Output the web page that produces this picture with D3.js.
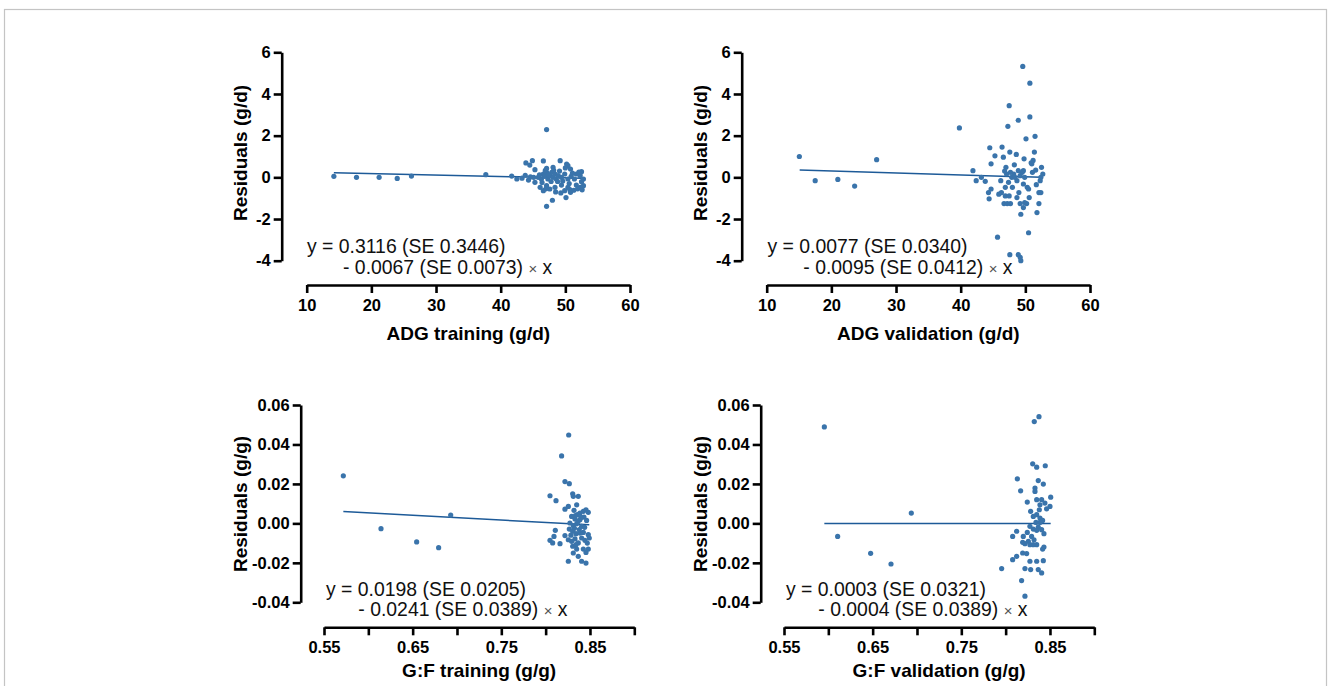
<!DOCTYPE html>
<html>
<head>
<meta charset="utf-8">
<script src="https://cdn.jsdelivr.net/npm/d3@7/dist/d3.min.js"></script>
<style>
  html, body { margin: 0; padding: 0; background: #fff; }
  svg { display: block; }
  text { font-family: Arial, "Liberation Sans", sans-serif; }
</style>
</head>
<body>
<svg id="chart" width="1328" height="686"></svg>
<script>
// Residual points [observed value, residual] for each model
const adgTrainPoints = [
  [14.2,0.05],[17.7,0.0],[21.2,0.0],[24.0,-0.05],[26.2,0.06],[37.7,0.13],[41.7,0.06],
  [47.1,2.29],[47.1,-1.39],[48.0,-1.1],[50.1,-0.97],
  [43.9,0.69],[44.9,0.80],[44.5,0.59],[46.6,0.79],[49.2,0.80],[45.3,0.37],[47.1,0.43],[48.1,0.48],
  [50.2,0.64],[50.4,0.56],[50.8,0.40],[52.5,0.27],[52.3,0.08],[42.5,-0.08],[43.3,-0.04],[43.8,0.1],
  [44.3,-0.13],[45.1,0.0],[45.3,-0.24],[45.8,0.0],[46.3,-0.08],[46.6,0.16],[46.8,0.05],[47.1,0.24],
  [47.3,-0.08],[47.6,0.08],[47.9,0.24],[48.1,0.0],[48.4,0.16],[48.6,-0.08],[48.9,0.08],[49.4,0.0],
  [49.9,0.16],[50.4,-0.08],[50.9,0.05],[51.4,-0.08],[51.7,0.16],[46.1,-0.48],[46.6,-0.64],[47.1,-0.4],
  [47.6,-0.56],[48.4,-0.48],[49.4,-0.37],[49.9,-0.64],[50.4,-0.48],[50.7,-0.59],[51.7,-0.37],[52.3,-0.48],
  [52.8,-0.4],[52.5,-0.21],[52.8,-0.08],[46.9,0.33],[47.4,0.12],[48.2,0.33],[48.8,-0.2],[49.1,0.3],
  [49.6,-0.18],[50.0,0.45],[51.1,0.2],[51.9,-0.55],[52.6,-0.6],[47.8,-0.2],[46.4,-0.25],[49.3,-0.75],
  [50.6,-0.3],[51.3,-0.62],[52.1,0.25],[44.6,0.02],[46.0,0.12],[47.0,-0.55],[48.5,-0.7],[50.8,-0.72]
];
const adgValidPoints = [
  [15.05,1.0],[17.5,-0.16],[21.0,-0.10],[23.6,-0.42],[27.0,0.85],[39.8,2.37],[41.9,0.32],[42.4,-0.16],
  [43.2,0.0],[43.8,-0.19],[44.5,1.42],[44.7,0.65],[45.3,1.03],[44.3,-0.73],[44.4,-1.03],[44.7,-0.56],
  [45.7,-2.87],[46.4,1.45],[46.6,0.97],[46.2,-0.16],[46.3,-0.73],[46.9,-0.89],[46.7,-1.26],[47.2,-1.26],
  [47.1,0.16],[47.0,0.48],[47.3,2.45],[47.5,3.44],[47.6,1.21],[47.9,0.0],[48.0,-0.48],[48.2,0.16],
  [48.6,1.10],[48.7,-0.16],[48.9,2.74],[49.0,-0.73],[49.2,-1.26],[49.3,-1.77],[49.6,5.32],[49.7,0.32],
  [49.8,0.89],[49.9,0.0],[50.1,1.85],[50.2,-1.26],[50.3,-0.48],[50.5,-2.66],[50.7,2.90],[50.7,4.52],
  [51.0,0.65],[51.1,0.24],[51.2,0.81],[51.4,1.21],[51.5,1.97],[51.7,-0.35],[51.8,-1.69],[52.1,-1.26],
  [52.1,-0.73],[52.4,-0.73],[52.5,0.48],[52.7,0.16],[52.4,0.0],[52.3,-0.16],[47.6,-3.71],[48.9,-3.71],
  [49.3,-4.0],[49.2,-3.84],[46.9,-0.48],[47.4,-0.24],[47.7,0.24],[48.4,0.0],[49.2,0.08],[49.5,0.24],
  [49.7,-0.32],[50.5,-0.56],[50.6,-0.97],[49.9,-1.21],[49.7,-1.45],[48.9,0.32],[48.7,-0.97],[47.7,-1.26],
  [47.5,-0.89],[45.9,-0.81],[50.9,0.7],[51.6,0.35],[48.3,0.6],[46.8,0.3]
];
const gfTrainPoints = [
  [0.5718,0.0241],[0.6143,-0.0027],[0.6545,-0.0094],[0.6793,-0.0123],[0.6929,0.0042],[0.826,0.0448],
  [0.818,0.0342],[0.8218,0.0212],[0.8267,0.0201],[0.8049,0.0140],[0.8117,0.0115],[0.8305,0.0150],
  [0.8312,0.0137],[0.8368,0.0137],[0.8218,0.0072],[0.8256,0.0086],[0.8320,0.0066],[0.8350,0.0094],
  [0.8387,0.0052],[0.8425,0.0061],[0.8455,0.0069],[0.8481,0.0056],[0.8293,0.0035],[0.8331,0.0022],
  [0.8357,0.0044],[0.8387,0.0019],[0.8432,0.0032],[0.8462,0.0015],[0.8274,0.0002],[0.8312,-0.0012],
  [0.8350,-0.0002],[0.8406,-0.0015],[0.8267,-0.0029],[0.8305,-0.0040],[0.8342,-0.0052],[0.8380,-0.0032],
  [0.8425,-0.0046],[0.8481,-0.0057],[0.8492,-0.0074],[0.8109,-0.0035],[0.8094,-0.0066],[0.8049,-0.0086],
  [0.8079,-0.0099],[0.8162,-0.0103],[0.8218,-0.0062],[0.8256,-0.0083],[0.8293,-0.0091],[0.8331,-0.0079],
  [0.8368,-0.0099],[0.8406,-0.0074],[0.8443,-0.0086],[0.8305,-0.0116],[0.8350,-0.0130],[0.8312,-0.0150],
  [0.8368,-0.0167],[0.8425,-0.0130],[0.8455,-0.0147],[0.8481,-0.0130],[0.8256,-0.0192],[0.8406,-0.0192],
  [0.8455,-0.0201],[0.8342,-0.0108],[0.8387,-0.0049],[0.8335,0.0040],[0.8365,0.0010],[0.8285,-0.0060],
  [0.8400,0.0030],[0.8440,-0.0020],[0.8325,-0.0025],[0.8470,-0.0100]
];
const gfValidPoints = [
  [0.5955,0.0489],[0.6105,-0.0066],[0.6477,-0.0152],[0.6707,-0.0206],[0.6936,0.0052],[0.8376,0.0541],
  [0.8323,0.0516],[0.8305,0.0302],[0.8350,0.0285],[0.8447,0.0292],[0.8132,0.0226],[0.8368,0.0217],
  [0.8425,0.0199],[0.8169,0.0165],[0.8331,0.0179],[0.8331,0.0162],[0.8350,0.0120],[0.8406,0.0120],
  [0.8443,0.0103],[0.8508,0.0133],[0.8500,0.0086],[0.8462,0.0074],[0.8244,0.0108],[0.8282,0.0061],
  [0.8312,0.0035],[0.8350,0.0044],[0.8387,0.0027],[0.8417,0.0015],[0.8380,0.0069],[0.8342,0.0005],
  [0.8274,-0.0015],[0.8312,-0.0029],[0.8368,-0.0019],[0.8406,-0.0032],[0.8432,-0.0052],[0.8244,-0.0046],
  [0.8199,-0.0066],[0.8293,-0.0066],[0.8320,-0.0083],[0.8256,-0.0091],[0.8218,-0.0103],[0.8274,-0.0108],
  [0.8192,-0.0096],[0.8350,-0.0108],[0.8432,-0.0120],[0.8417,-0.0130],[0.8079,-0.0066],[0.8124,-0.0040],
  [0.8192,-0.0150],[0.8237,-0.0153],[0.8312,-0.0108],[0.8079,-0.0184],[0.8124,-0.0167],[0.8218,-0.0229],
  [0.8274,-0.0192],[0.8282,-0.0234],[0.8350,-0.0192],[0.8368,-0.0234],[0.8406,-0.0251],[0.8425,-0.0189],
  [0.7955,-0.0229],[0.8180,-0.0290],[0.8218,-0.0369],[0.8350,-0.0035],[0.8387,0.0005],[0.8387,0.0094]
];

// Fitted regression segments [x0, y0, x1, y1]
const adgTrainFit = [14.2, 0.216, 52.8, -0.042];
const adgValidFit = [15.1, 0.35, 52.5, 0.0];
const gfTrainFit = [0.5718, 0.0060, 0.8492, -0.0007];
const gfValidFit = [0.5955, 0.0, 0.8508, 0.0];

// Tick values and labels
const adgXTicks = [10, 20, 30, 40, 50, 60];
const adgYTicks = [-4, -2, 0, 2, 4, 6];
const gfXTicks = [0.55, 0.60, 0.65, 0.70, 0.75, 0.80, 0.85, 0.90];
const gfXTickLabels = ["0.55", "", "0.65", "", "0.75", "", "0.85", ""];
const gfYTicks = [-0.04, -0.02, 0.00, 0.02, 0.04, 0.06];
const gfYTickLabels = ["-0.04", "-0.02", "0.00", "0.02", "0.04", "0.06"];

// Titles and equations
const xTitles = ["ADG training (g/d)", "ADG validation (g/d)", "G:F training (g/g)", "G:F validation (g/g)"];
const yTitles = ["Residuals (g/d)", "Residuals (g/d)", "Residuals (g/g)", "Residuals (g/g)"];
const eqLine1 = ["y = 0.3116 (SE 0.3446)", "y = 0.0077 (SE 0.0340)", "y = 0.0198 (SE 0.0205)", "y = 0.0003 (SE 0.0321)"];
const eqLine2 = ["- 0.0067 (SE 0.0073)", "- 0.0095 (SE 0.0412)", "- 0.0241 (SE 0.0389)", "- 0.0004 (SE 0.0389)"];

const svg = d3.select("#chart");

// light frame around the figure
svg.append("rect")
  .attr("x", 4.5).attr("y", 9.5).attr("width", 1322).attr("height", 700)
  .attr("fill", "none").attr("stroke", "#c4c4c4").attr("stroke-width", 1.2);

const DOT = "#3a74ab";
const LINE = "#1d5a98";

const panels = [
  { pts: adgTrainPoints, fit: adgTrainFit, xDom: [10, 60], yDom: [-4, 6], xTicks: adgXTicks, xFmt: d => d,
    yTicks: adgYTicks, yFmt: d => d, yAxisX: 281.7, yTop: 52.3, yBot: 260.7, xAxisY: 285,
    xLeft: 306.7, xRight: 630, eqX1: 307, eqX2: 343, eqY: 253.3, xTitleY: 340, yTitleX: 240, yTitleY: 153 },
  { pts: adgValidPoints, fit: adgValidFit, xDom: [10, 60], yDom: [-4, 6], xTicks: adgXTicks, xFmt: d => d,
    yTicks: adgYTicks, yFmt: d => d, yAxisX: 741.7, yTop: 52.3, yBot: 260.7, xAxisY: 285,
    xLeft: 766.7, xRight: 1090, eqX1: 767.5, eqX2: 803.3, eqY: 253.3, xTitleY: 340, yTitleX: 700, yTitleY: 153 },
  { pts: gfTrainPoints, fit: gfTrainFit, xDom: [0.55, 0.9], yDom: [-0.04, 0.06], xTicks: gfXTicks,
    xFmt: (d, i) => gfXTickLabels[i], yTicks: gfYTicks, yFmt: (d, i) => gfYTickLabels[i],
    yAxisX: 300.7, yTop: 405, yBot: 602.3, xAxisY: 627.3, xLeft: 324, xRight: 634.3,
    eqX1: 326, eqX2: 358.3, eqY: 595.7, xTitleY: 677, yTitleX: 240, yTitleY: 504 },
  { pts: gfValidPoints, fit: gfValidFit, xDom: [0.55, 0.9], yDom: [-0.04, 0.06], xTicks: gfXTicks,
    xFmt: (d, i) => gfXTickLabels[i], yTicks: gfYTicks, yFmt: (d, i) => gfYTickLabels[i],
    yAxisX: 760.7, yTop: 405, yBot: 602.3, xAxisY: 627.3, xLeft: 784, xRight: 1094.3,
    eqX1: 786, eqX2: 818.3, eqY: 595.7, xTitleY: 677, yTitleX: 700, yTitleY: 504 }
];

panels.forEach((p, k) => {
  const x = d3.scaleLinear().domain(p.xDom).range([p.xLeft, p.xRight]);
  const y = d3.scaleLinear().domain(p.yDom).range([p.yBot, p.yTop]);
  const g = svg.append("g");

  // y axis
  const ya = g.append("g").attr("transform", `translate(${p.yAxisX},0)`)
    .call(d3.axisLeft(y).tickValues(p.yTicks).tickFormat(p.yFmt).tickSize(8).tickSizeOuter(0).tickPadding(3));
  // x axis (offset below the plot)
  const xa = g.append("g").attr("transform", `translate(0,${p.xAxisY})`)
    .call(d3.axisBottom(x).tickValues(p.xTicks).tickFormat(p.xFmt).tickSize(8).tickSizeOuter(0).tickPadding(6));

  [ya, xa].forEach(a => {
    a.select(".domain").attr("stroke", "#000").attr("stroke-width", 2.6);
    a.selectAll(".tick line").attr("stroke", "#000").attr("stroke-width", 2.6);
    a.selectAll(".tick text").attr("fill", "#000")
      .style("font-family", 'Arial, "Liberation Sans", sans-serif')
      .style("font-size", "16.5px").style("font-weight", "bold");
  });

  // regression segment
  g.append("line")
    .attr("x1", x(p.fit[0])).attr("y1", y(p.fit[1]))
    .attr("x2", x(p.fit[2])).attr("y2", y(p.fit[3]))
    .attr("stroke", LINE).attr("stroke-width", 1.5);

  // residual points
  g.selectAll("circle").data(p.pts).join("circle")
    .attr("cx", d => x(d[0])).attr("cy", d => y(d[1]))
    .attr("r", 2.6).attr("fill", DOT);

  // equation
  g.append("text").attr("x", p.eqX1).attr("y", p.eqY)
    .style("font-size", "19.4px").attr("fill", "#111").text(eqLine1[k]);
  const l2 = g.append("text").attr("x", p.eqX2).attr("y", p.eqY + 20.5)
    .style("font-size", "19.4px").attr("fill", "#111");
  l2.append("tspan").text(eqLine2[k] + " ");
  l2.append("tspan").style("font-size", "15px").attr("fill", "#555").text("×");
  l2.append("tspan").text(" x");

  // axis titles
  g.append("text").attr("x", (p.xLeft + p.xRight) / 2).attr("y", p.xTitleY)
    .attr("text-anchor", "middle").style("font-size", "19px").style("font-weight", "bold")
    .text(xTitles[k]);
  g.append("text")
    .attr("transform", `translate(${p.yTitleX},${p.yTitleY}) rotate(-90)`)
    .attr("text-anchor", "middle").attr("dominant-baseline", "central")
    .style("font-size", "19px").style("font-weight", "bold")
    .text(yTitles[k]);
});
</script>
</body>
</html>
